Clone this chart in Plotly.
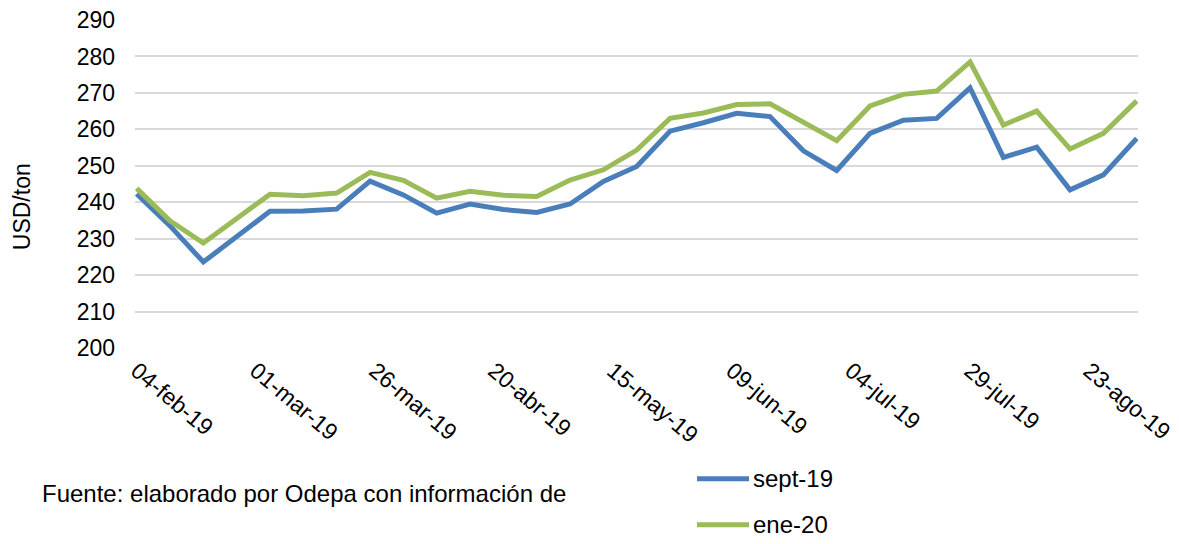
import pandas as pd
import plotly.graph_objects as go

# precios semanales USD/ton (contratos sept-19 y ene-20)
fechas = pd.date_range("2019-02-04", periods=31, freq="7D")

sept_19 = [242.3, 233.5, 223.6, 230.5, 237.5, 237.6, 238.1, 245.8, 242.0, 237.0,
           239.5, 238.0, 237.2, 239.5, 245.7, 249.8, 259.5, 261.8, 264.4, 263.5,
           254.1, 248.7, 258.9, 262.5, 263.0, 271.4, 252.3, 255.1, 243.4, 247.5,
           257.5]
ene_20 = [243.8, 234.9, 228.8, 235.5, 242.2, 241.8, 242.5, 248.2, 246.0, 241.1,
          243.0, 241.9, 241.6, 246.1, 248.9, 254.3, 263.0, 264.5, 266.8, 267.0,
          262.1, 256.9, 266.4, 269.6, 270.5, 278.5, 261.2, 265.0, 254.6, 258.9,
          267.8]

tick_fechas = ["2019-02-04", "2019-03-01", "2019-03-26", "2019-04-20", "2019-05-15",
               "2019-06-09", "2019-07-04", "2019-07-29", "2019-08-23"]
tick_textos = ["04-feb-19", "01-mar-19", "26-mar-19", "20-abr-19", "15-may-19",
               "09-jun-19", "04-jul-19", "29-jul-19", "23-ago-19"]

AZUL = "#4A7EBB"
VERDE = "#9BBB59"
FONT = "Liberation Sans, Arial, sans-serif"

W, H = 1179, 544
L, R, T, B = 135, 41, 19.5, 196
pw, ph = W - L - R, H - T - B


def px(x):
    return (x - L) / pw


def py(y):
    return (H - B - y) / ph


fig = go.Figure()
fig.add_trace(go.Scatter(x=fechas, y=sept_19, mode="lines", name="sept-19",
                         line=dict(color=AZUL, width=5)))
fig.add_trace(go.Scatter(x=fechas, y=ene_20, mode="lines", name="ene-20",
                         line=dict(color=VERDE, width=5)))

fig.update_layout(
    width=W, height=H,
    margin=dict(l=L, r=R, t=T, b=B),
    plot_bgcolor="white", paper_bgcolor="white",
    showlegend=False,
    font=dict(family=FONT, size=23, color="black"),
    xaxis=dict(range=["2019-02-03 15:30", "2019-09-02 06:30"],
               tickvals=tick_fechas, ticktext=tick_textos, tickangle=40,
               ticklabeloverflow="allow", automargin=False,
               ticklabelstandoff=4,
               showgrid=False, zeroline=False, showline=False, ticks=""),
    yaxis=dict(range=[200, 290], dtick=10, showgrid=True, gridcolor="#D9D9D9",
               gridwidth=1.5, zeroline=False, showline=False, ticks="",
               ticklabelstandoff=19, automargin=False),
)

# titulo eje y
fig.add_annotation(text="USD/ton", textangle=-90, xref="paper", yref="paper",
                   x=px(22), y=py(207), xanchor="center", yanchor="middle",
                   showarrow=False, font=dict(size=23))
# fuente
fig.add_annotation(text="Fuente: elaborado por Odepa con información de",
                   xref="paper", yref="paper", x=px(40), y=py(494),
                   xanchor="left", yanchor="middle", showarrow=False,
                   font=dict(size=24))

# leyenda manual
for nombre, color, yy in [("sept-19", AZUL, 479), ("ene-20", VERDE, 525)]:
    fig.add_shape(type="line", xref="paper", yref="paper",
                  x0=px(697), x1=px(749), y0=py(yy), y1=py(yy),
                  line=dict(color=color, width=5))
    fig.add_annotation(text=nombre, xref="paper", yref="paper",
                       x=px(751), y=py(yy), xanchor="left", yanchor="middle",
                       showarrow=False, font=dict(size=24))

fig.write_html("out.html", config={"displayModeBar": False},
               post_script="document.body.style.margin='0';")
